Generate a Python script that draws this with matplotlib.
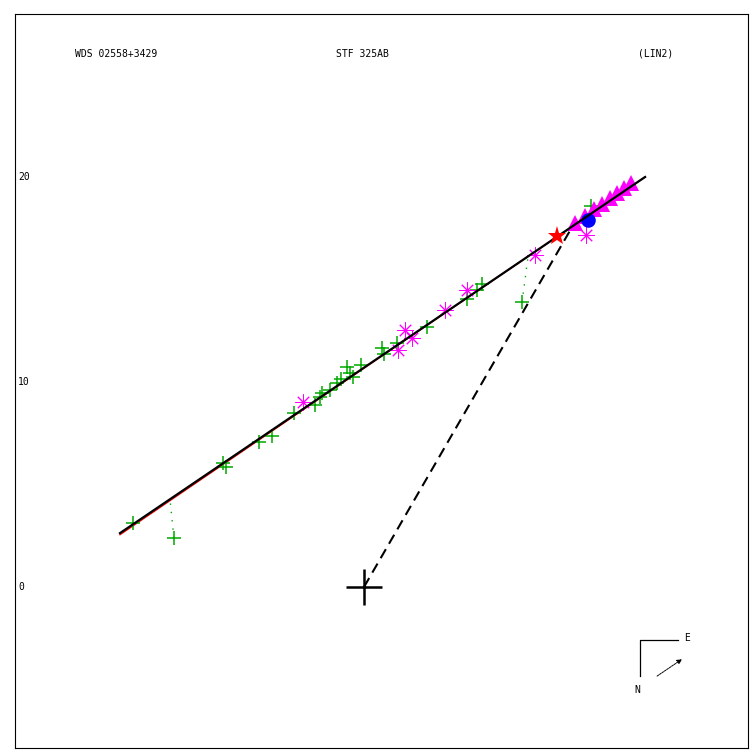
import matplotlib
matplotlib.use("Agg")
import matplotlib.pyplot as plt
import matplotlib.transforms as mtransforms

# ---- data (arcsec-like plot units) ----
orbit_x = [-11.9, -6.0, 0.0, 6.0, 13.71]
orbit_y = [2.63, 6.63, 10.70, 14.77, 20.0]
fit_x = [-11.9, -6.0, 0.0, 6.0, 13.71]
fit_y = [2.55, 6.57, 10.67, 14.76, 20.0]

peri_x = [0.0, 10.15]
peri_y = [0.0, 17.56]

green_x = [-11.27, -9.27, -6.88, -6.73, -5.12, -4.49, -3.41, -2.39, -2.15, -2.05,
           -1.66, -1.32, -1.12, -0.83, -0.68, -0.54, -0.15, 0.88, 0.98, 1.61,
           3.07, 5.02, 5.51, 5.76, 7.71, 11.07]
green_y = [3.12, 2.39, 6.05, 5.85, 7.07, 7.37, 8.49, 8.88, 9.27, 9.46,
           9.61, 9.95, 10.15, 10.73, 10.44, 10.24, 10.83, 11.66, 11.37, 11.90,
           12.68, 14.05, 14.49, 14.78, 13.90, 18.59]

resid_obs_x = [-9.27, 7.71]
resid_obs_y = [2.39, 13.90]
resid_orb_x = [-9.46, 8.0]
resid_orb_y = [4.29, 16.1]

mag_x = [-2.98, 1.66, 2.0, 2.34, 3.95, 5.02, 8.34, 10.83]
mag_y = [9.02, 11.56, 12.54, 12.15, 13.51, 14.49, 16.20, 17.17]

tri_x = [10.29, 10.78, 11.22, 11.61, 12.0, 12.34, 12.68, 13.02]
tri_y = [17.78, 18.11, 18.43, 18.70, 18.98, 19.22, 19.46, 19.70]

star_x, star_y = [9.41], [17.12]
circ_x, circ_y = [10.93], [17.90]
origin_x, origin_y = [0.0], [0.0]

ytick_vals = [0, 10, 20]
ytick_labels = ["0", "10", "20"]
title_left = "WDS 02558+3429"
title_mid = "STF 325AB"
title_right = "(LIN2)"

FONT = "DejaVu Sans Mono"
GREEN = "#00a800"
MAG = "#ff00ff"

fig = plt.figure(figsize=(7.5, 7.5), dpi=100)
ax = fig.add_axes([15 / 750, 2 / 750, 733 / 750, 734 / 750])
ax.set_xlim(-17.02, 18.73)
ax.set_ylim(-7.85, 27.95)
ax.set_xticks([])
ax.set_yticks([])
for s in ax.spines.values():
    s.set_linewidth(0.8)

# orbit lines
ax.plot(fit_x, fit_y, color="red", lw=0.9, zorder=2)
ax.plot(orbit_x, orbit_y, color="black", lw=1.6, zorder=6)
ax.plot(peri_x, peri_y, color="black", lw=1.5, dashes=(5, 3), zorder=3)

# residual lines
for ox, oy, rx, ry in zip(resid_obs_x, resid_obs_y, resid_orb_x, resid_orb_y):
    ax.plot([ox, rx], [oy, ry], color=GREEN, lw=1.0, ls=(0, (1, 5)), zorder=2)

# observations
ax.plot(green_x, green_y, ls="none", marker="+", ms=9.5, mew=1.1, color=GREEN, zorder=4)
ax.plot(mag_x, mag_y, ls="none", marker=(8, 2, 0), ms=11.5, mew=0.7, color=MAG, zorder=4)
ax.plot(mag_x, mag_y, ls="none", marker="o", ms=2.5, mew=0, color=MAG, zorder=4)
ax.plot(tri_x, tri_y, ls="none", marker="^", ms=12, mew=0, color=MAG, zorder=5)
ax.plot(circ_x, circ_y, ls="none", marker="o", ms=10.5, mew=0, color="#0000ff", zorder=5.5)
ax.plot(star_x, star_y, ls="none", marker="*", ms=14, mew=0, color="red", zorder=7)
ax.plot(origin_x, origin_y, ls="none", marker="+", ms=26, mew=1.8, color="black", zorder=7)

# y labels inside axes
trans = mtransforms.blended_transform_factory(ax.transAxes, ax.transData)
for v, lab in zip(ytick_vals, ytick_labels):
    ax.text(0.004, v, lab, transform=trans, ha="left", va="center",
            fontsize=7, family=FONT)

# titles
ax.text((75 - 15) / 733, (748 - 54) / 734, title_left, transform=ax.transAxes,
        ha="left", va="center", fontsize=7, family=FONT)
ax.text((336 - 15) / 733, (748 - 54) / 734, title_mid, transform=ax.transAxes,
        ha="left", va="center", fontsize=7, family=FONT)
ax.text((638 - 15) / 733, (748 - 54) / 734, title_right, transform=ax.transAxes,
        ha="left", va="center", fontsize=7, family=FONT)

# compass
ax.plot([0.853, 0.853, 0.905], [0.098, 0.147, 0.147], color="black", lw=0.9,
        transform=ax.transAxes)
ax.text(0.917, 0.150, "E", transform=ax.transAxes, ha="center", va="center",
        fontsize=7, family=FONT)
ax.text(0.849, 0.079, "N", transform=ax.transAxes, ha="center", va="center",
        fontsize=7, family=FONT)
ax.annotate("", xy=(0.910, 0.121), xytext=(0.876, 0.098), xycoords="axes fraction",
            arrowprops=dict(arrowstyle="-|>", lw=0.7, ls=(0, (2, 1)), color="black",
                            mutation_scale=7, shrinkA=0, shrinkB=0))

fig.savefig("out.png", dpi=100)
